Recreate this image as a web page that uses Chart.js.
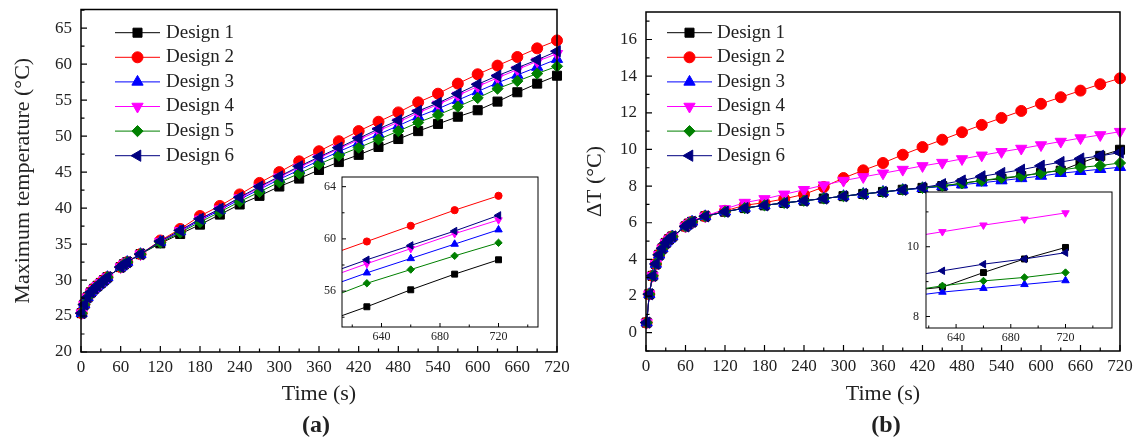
<!DOCTYPE html>
<html>
<head>
<meta charset="utf-8">
<script src="https://cdn.jsdelivr.net/npm/chart.js@4.4.1/dist/chart.umd.min.js"></script>
<style>
  body { margin: 0; background: #fff; width: 1138px; height: 439px; position: relative; overflow: hidden; font-family: "Liberation Serif", "Times New Roman", serif; }
  canvas { position: absolute; }
  .tag { position: absolute; font-weight: bold; font-size: 24px; color: #222; transform: translate(-50%, -50%); }
</style>
</head>
<body>
<canvas id="mainA" width="570" height="439" style="left:0;top:0"></canvas>
<canvas id="mainB" width="568" height="439" style="left:570px;top:0"></canvas>
<canvas id="insetA" width="245" height="200" style="left:300px;top:170px"></canvas>
<canvas id="insetB" width="245" height="200" style="left:880px;top:180px"></canvas>
<div class="tag" style="left:316px;top:424px">(a)</div>
<div class="tag" style="left:886px;top:424px">(b)</div>
<script>
// time (s)
const time = [1, 5, 10, 15, 20, 25, 30, 35, 40, 60, 65, 70, 90,
  120, 150, 180, 210, 240, 270, 300, 330, 360, 390, 420, 450, 480, 510, 540, 570, 600, 630, 660, 690, 720];

// (a) maximum temperature, °C
const maxTemp1 = [25.4, 26.6, 27.6, 28.3, 28.8, 29.2, 29.6, 30.0, 30.4, 31.8, 32.2, 32.5, 33.6,
  35.1, 36.4, 37.7, 39.1, 40.5, 41.7, 43.0, 44.1, 45.3, 46.4, 47.4, 48.5, 49.6, 50.7, 51.7, 52.7, 53.6, 54.8, 56.1, 57.3, 58.4];
const maxTemp2 = [25.4, 26.6, 27.6, 28.3, 28.8, 29.2, 29.6, 30.0, 30.4, 31.8, 32.2, 32.5, 33.6,
  35.5, 37.1, 38.9, 40.3, 41.9, 43.5, 45.0, 46.5, 47.9, 49.3, 50.7, 52.0, 53.3, 54.7, 55.9, 57.3, 58.6, 59.8, 61.0, 62.2, 63.3];
const maxTemp3 = [25.4, 26.6, 27.6, 28.3, 28.8, 29.2, 29.6, 30.0, 30.4, 31.8, 32.2, 32.5, 33.6,
  35.3, 36.75, 38.3, 39.7, 41.2, 42.6, 44.0, 45.3, 46.6, 47.85, 49.05, 50.25, 51.45, 52.7, 53.8, 55.0, 56.2, 57.4, 58.5, 59.6, 60.7];
const maxTemp4 = [25.4, 26.6, 27.6, 28.3, 28.8, 29.2, 29.6, 30.0, 30.4, 31.8, 32.2, 32.5, 33.6,
  35.35, 36.85, 38.45, 39.85, 41.4, 42.85, 44.3, 45.65, 46.95, 48.25, 49.5, 50.75, 51.95, 53.25, 54.4, 55.65, 56.9, 58.1, 59.25, 60.4, 61.45];
const maxTemp5 = [25.4, 26.6, 27.6, 28.3, 28.8, 29.2, 29.6, 30.0, 30.4, 31.8, 32.2, 32.5, 33.6,
  35.2, 36.6, 38.05, 39.45, 40.9, 42.25, 43.6, 44.8, 46.1, 47.3, 48.4, 49.55, 50.7, 51.9, 52.95, 54.1, 55.3, 56.6, 57.65, 58.7, 59.7];
const maxTemp6 = [25.4, 26.6, 27.6, 28.3, 28.8, 29.2, 29.6, 30.0, 30.4, 31.8, 32.2, 32.5, 33.6,
  35.4, 36.9, 38.5, 39.9, 41.5, 43.0, 44.4, 45.8, 47.1, 48.4, 49.7, 51.0, 52.2, 53.5, 54.6, 55.9, 57.2, 58.4, 59.5, 60.6, 61.8];

// (b) temperature difference, °C
const deltaT1 = [0.55, 2.1, 3.1, 3.75, 4.25, 4.6, 4.9, 5.1, 5.25, 5.8, 5.95, 6.05, 6.35,
  6.6, 6.8, 6.95, 7.08, 7.2, 7.32, 7.45, 7.57, 7.68, 7.8, 7.9, 8.0, 8.15, 8.3, 8.4, 8.55, 8.72, 8.84, 9.26, 9.65, 9.98];
const deltaT2 = [0.55, 2.1, 3.1, 3.75, 4.25, 4.6, 4.9, 5.1, 5.25, 5.8, 5.95, 6.05, 6.35,
  6.65, 6.95, 7.1, 7.3, 7.55, 7.95, 8.44, 8.86, 9.26, 9.71, 10.13, 10.53, 10.94, 11.34, 11.72, 12.1, 12.49, 12.85, 13.21, 13.56, 13.88];
const deltaT3 = [0.55, 2.1, 3.1, 3.75, 4.25, 4.6, 4.9, 5.1, 5.25, 5.8, 5.95, 6.05, 6.35,
  6.6, 6.8, 6.95, 7.08, 7.2, 7.32, 7.45, 7.57, 7.68, 7.78, 7.88, 7.98, 8.08, 8.18, 8.3, 8.42, 8.55, 8.7, 8.81, 8.92, 9.03];
const deltaT4 = [0.55, 2.1, 3.1, 3.75, 4.25, 4.6, 4.9, 5.1, 5.25, 5.8, 5.95, 6.05, 6.35,
  6.75, 7.1, 7.3, 7.55, 7.8, 8.05, 8.3, 8.5, 8.7, 8.9, 9.1, 9.28, 9.48, 9.68, 9.87, 10.05, 10.24, 10.43, 10.62, 10.79, 10.97];
const deltaT5 = [0.55, 2.1, 3.1, 3.75, 4.25, 4.6, 4.9, 5.1, 5.25, 5.8, 5.95, 6.05, 6.35,
  6.6, 6.8, 6.95, 7.08, 7.2, 7.32, 7.45, 7.57, 7.68, 7.8, 7.9, 8.02, 8.15, 8.3, 8.45, 8.55, 8.7, 8.88, 9.02, 9.12, 9.26];
const deltaT6 = [0.55, 2.1, 3.1, 3.75, 4.25, 4.6, 4.9, 5.1, 5.25, 5.8, 5.95, 6.05, 6.35,
  6.6, 6.8, 6.95, 7.08, 7.2, 7.32, 7.45, 7.57, 7.68, 7.8, 7.92, 8.1, 8.3, 8.53, 8.71, 8.89, 9.11, 9.31, 9.5, 9.65, 9.83];

const designs = ['Design 1', 'Design 2', 'Design 3', 'Design 4', 'Design 5', 'Design 6'];

// tick labels
const timeTicks = [0, 60, 120, 180, 240, 300, 360, 420, 480, 540, 600, 660, 720];
const tempTicks = [20, 25, 30, 35, 40, 45, 50, 55, 60, 65];
const deltaTicks = [0, 2, 4, 6, 8, 10, 12, 14, 16];
const insetTimeTicks = [640, 680, 720];
const insetTempTicks = [56, 60, 64];
const insetDeltaTicks = [8, 10];

const colors = ['#000000', '#ff0000', '#0000ff', '#ff00ff', '#008000', '#000080'];
const shapes = ['rect', 'circle', 'triangle', 'triangle', 'rectRot', 'triangle'];
const turns = [0, 0, 0, 180, 0, -90];
const bigSize = [6.4, 5.5, 6.5, 6.5, 5.6, 6.5];
const smallSize = [4.2, 3.6, 4.3, 4.3, 3.7, 4.3];

const FONT = '"Liberation Serif", "Times New Roman", serif';
const TEXT = '#222';

function minorsOf(major, min, max) {
  const step = major[1] - major[0];
  const out = [];
  for (let v = major[0] - step / 2; v <= max; v += step) {
    if (v >= min) out.push(v);
  }
  return out;
}

// white plot box, black frame and inward ticks
const frameTicks = {
  id: 'frameTicks',
  beforeDraw(chart, args, opts) {
    if (!opts.fill) return;
    const a = chart.chartArea;
    chart.ctx.save();
    chart.ctx.fillStyle = '#fff';
    chart.ctx.fillRect(a.left, a.top, a.right - a.left, a.bottom - a.top);
    chart.ctx.restore();
  },
  afterDatasetsDraw(chart, args, opts) {
    const { ctx, chartArea: a, scales } = chart;
    ctx.save();
    ctx.strokeStyle = '#000';
    ctx.lineWidth = opts.tickWidth;
    ctx.beginPath();
    const x = scales.x, y = scales.y;
    opts.xMajor.forEach(v => {
      const px = x.getPixelForValue(v);
      ctx.moveTo(px, a.bottom); ctx.lineTo(px, a.bottom - opts.major);
    });
    minorsOf(opts.xMajor, x.min, x.max).forEach(v => {
      const px = x.getPixelForValue(v);
      ctx.moveTo(px, a.bottom); ctx.lineTo(px, a.bottom - opts.minor);
    });
    opts.yMajor.forEach(v => {
      const py = y.getPixelForValue(v);
      ctx.moveTo(a.left, py); ctx.lineTo(a.left + opts.major, py);
    });
    minorsOf(opts.yMajor, y.min, y.max).forEach(v => {
      const py = y.getPixelForValue(v);
      ctx.moveTo(a.left, py); ctx.lineTo(a.left + opts.minor, py);
    });
    ctx.stroke();
    ctx.lineWidth = opts.frame;
    ctx.strokeRect(a.left, a.top, a.right - a.left, a.bottom - a.top);
    ctx.restore();
  }
};

// legend with line + marker, drawn inside the plot
const lineLegend = {
  id: 'lineLegend',
  afterDatasetsDraw(chart, args, opts) {
    if (!opts.show) return;
    const ctx = chart.ctx;
    ctx.save();
    chart.data.datasets.forEach((ds, i) => {
      const yy = opts.y + i * opts.gap;
      ctx.strokeStyle = ds.borderColor;
      ctx.lineWidth = 1;
      ctx.beginPath();
      ctx.moveTo(opts.x, yy);
      ctx.lineTo(opts.x + opts.len, yy);
      ctx.stroke();
      ctx.fillStyle = ds.backgroundColor;
      Chart.helpers.drawPoint(ctx, {
        pointStyle: ds.pointStyle, radius: ds.pointRadius,
        rotation: ds.pointRotation, borderWidth: 1
      }, opts.x + opts.len / 2, yy);
      ctx.fillStyle = TEXT;
      ctx.font = opts.size + 'px ' + FONT;
      ctx.textBaseline = 'middle';
      ctx.textAlign = 'left';
      ctx.fillText(ds.label, opts.x + opts.len + opts.textGap, yy);
    });
    ctx.restore();
  }
};

function buildSets(series, sizes) {
  return series.map((vals, i) => ({
    label: designs[i],
    data: vals.map((v, k) => ({ x: time[k], y: v })),
    borderColor: colors[i],
    backgroundColor: colors[i],
    borderWidth: 1,
    pointStyle: shapes[i],
    pointRotation: turns[i],
    pointRadius: sizes[i],
    pointBorderWidth: 1,
    order: 6 - i
  }));
}

function axis(cfg) {
  return {
    type: 'linear',
    min: cfg.min, max: cfg.max,
    afterBuildTicks: s => { s.ticks = cfg.ticks.map(v => ({ value: v })); },
    afterFit: s => {
      if (cfg.width) s.width = cfg.width;
      if (cfg.height) s.height = cfg.height;
      // keep the plot box exactly where the layout padding puts it
      s.paddingTop = 0; s.paddingBottom = 0; s.paddingLeft = 0; s.paddingRight = 0;
    },
    grid: { display: false, drawTicks: false },
    border: { display: false },
    ticks: { font: { family: FONT, size: cfg.font }, color: TEXT, padding: cfg.pad, maxRotation: 0, autoSkip: false },
    title: cfg.title ? { display: true, text: cfg.title, font: { family: FONT, size: cfg.titleSize }, color: TEXT, padding: cfg.titlePad } : { display: false }
  };
}

function makeChart(id, sets, o) {
  return new Chart(document.getElementById(id), {
    type: 'line',
    data: { datasets: sets },
    plugins: [frameTicks, lineLegend],
    options: {
      responsive: false,
      animation: false,
      devicePixelRatio: 1,
      layout: { padding: o.padding },
      scales: { x: axis(o.x), y: axis(o.y) },
      elements: { line: { tension: 0 } },
      datasets: { line: { clip: o.clip } },
      plugins: {
        legend: { display: false },
        tooltip: { enabled: false },
        frameTicks: o.frame,
        lineLegend: o.legend || { show: false }
      }
    }
  });
}

const setsA = [maxTemp1, maxTemp2, maxTemp3, maxTemp4, maxTemp5, maxTemp6];
const setsB = [deltaT1, deltaT2, deltaT3, deltaT4, deltaT5, deltaT6];

makeChart('mainA', buildSets(setsA, bigSize), {
  padding: { top: 9.5, right: 13, bottom: 0, left: 0 },
  clip: false,
  x: { min: 0, max: 720, ticks: timeTicks, height: 87, font: 17, pad: 5, title: 'Time (s)', titleSize: 22, titlePad: { top: 0, bottom: 32 } },
  y: { min: 20, max: 67.6, ticks: tempTicks, width: 81, font: 17, pad: 9, title: 'Maximum temperature (°C)', titleSize: 22, titlePad: { top: 10, bottom: 0 } },
  frame: { fill: false, frame: 1.5, tickWidth: 1.2, major: 6, minor: 3.5, xMajor: timeTicks, yMajor: tempTicks },
  legend: { show: true, x: 115, y: 32.7, gap: 24.6, len: 45, textGap: 6, size: 19 }
});

makeChart('mainB', buildSets(setsB, bigSize), {
  padding: { top: 12, right: 18, bottom: 0, left: 0 },
  clip: false,
  x: { min: 0, max: 720, ticks: timeTicks, height: 88, font: 17, pad: 5, title: 'Time (s)', titleSize: 22, titlePad: { top: 0, bottom: 32 } },
  y: { min: -1, max: 17.5, ticks: deltaTicks, width: 76, font: 17, pad: 9, title: 'ΔT (°C)', titleSize: 22, titlePad: { top: 12, bottom: 0 } },
  frame: { fill: false, frame: 1.5, tickWidth: 1.2, major: 6, minor: 3.5, xMajor: timeTicks, yMajor: deltaTicks },
  legend: { show: true, x: 97, y: 32.7, gap: 24.6, len: 45, textGap: 5, size: 19 }
});

makeChart('insetA', buildSets(setsA, smallSize), {
  padding: { top: 7, right: 7, bottom: 0, left: 0 },
  clip: 0,
  x: { min: 613, max: 747, ticks: insetTimeTicks, height: 43, font: 12, pad: 3 },
  y: { min: 53.25, max: 64.74, ticks: insetTempTicks, width: 42, font: 12, pad: 6 },
  frame: { fill: true, frame: 1, tickWidth: 1, major: 4, minor: 2.5, xMajor: insetTimeTicks, yMajor: insetTempTicks }
});

makeChart('insetB', buildSets(setsB, smallSize), {
  padding: { top: 12, right: 13, bottom: 0, left: 0 },
  clip: 0,
  x: { min: 618, max: 754, ticks: insetTimeTicks, height: 52, font: 12, pad: 3 },
  y: { min: 7.67, max: 11.57, ticks: insetDeltaTicks, width: 46, font: 12, pad: 7 },
  frame: { fill: true, frame: 1, tickWidth: 1, major: 4, minor: 2.5, xMajor: insetTimeTicks, yMajor: insetDeltaTicks }
});
</script>
</body>
</html>
